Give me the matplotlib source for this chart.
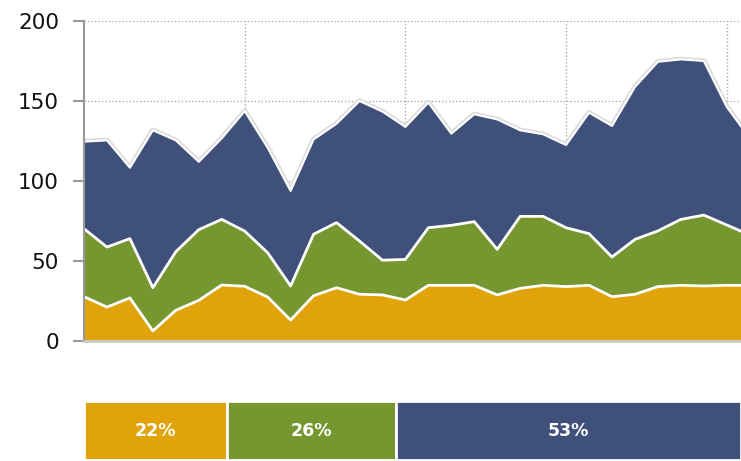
import numpy as np
import matplotlib
matplotlib.use("Agg")
import matplotlib.pyplot as plt

yellow = [27.7, 21.2, 26.9, 6.3, 19.2, 25.4, 35.0, 34.2, 27.5, 13.1, 28.3, 33.3, 29.2, 28.8, 25.6,
          34.8, 34.8, 34.8, 28.8, 32.9, 34.8, 34.0, 34.8, 27.7, 29.2, 34.0, 34.8, 34.4, 34.8, 34.8]
green = [42.5, 37.5, 37.1, 27.0, 36.6, 44.2, 41.0, 34.5, 27.7, 21.3, 38.4, 40.7, 33.3, 21.7, 25.4,
         36.0, 37.5, 39.8, 28.5, 45.0, 43.1, 36.8, 32.3, 24.8, 34.3, 34.8, 41.2, 44.3, 37.7, 31.5]
blue = [54.4, 66.7, 44.3, 98.4, 69.6, 42.4, 50.7, 75.0, 65.6, 59.4, 59.3, 61.8, 87.5, 92.9, 82.8,
        78.2, 57.3, 67.1, 81.2, 53.8, 51.3, 51.7, 75.6, 81.9, 95.3, 105.7, 100.0, 96.3, 73.8, 60.5]
shares = [22, 26, 53]
share_labels = ["22%", "26%", "53%"]
y_ticks = [0, 50, 100, 150, 200]

colors = ["#E0A30A", "#76962F", "#3F507A"]

W, H = 741, 461
fig = plt.figure(figsize=(W / 100, H / 100), dpi=100)

ax = fig.add_axes([84 / W, 1 - 341 / H, (741 - 84) / W, (341 - 21) / H])
x = np.arange(len(yellow))
y1 = np.array(yellow)
y2 = y1 + np.array(green)
y3 = y2 + np.array(blue)

ax.fill_between(x, 0, y1, color=colors[0], lw=0, zorder=2)
ax.fill_between(x, y1, y2, color=colors[1], lw=0, zorder=2)
ax.fill_between(x, y2, y3, color=colors[2], lw=0, zorder=2)
ax.plot(x, y3, color="#dddddd", lw=4, zorder=1.9, solid_joinstyle="round")
ax.plot(x, y3, color="white", lw=1.5, zorder=3)
ax.plot(x, y2, color="white", lw=2, zorder=3)
ax.plot(x, y1, color="white", lw=2, zorder=3)

ax.set_xlim(0, 28.62)
ax.set_ylim(0, 200)
ax.set_yticks(y_ticks)
ax.set_xticks([7, 14, 21, 28])
ax.grid(True, color="#aaaaaa", linestyle=(0, (1, 1.5)), lw=1, zorder=0)
ax.tick_params(axis="x", length=0, labelbottom=False)
ax.tick_params(axis="y", length=8, width=1.5, color="#999999", labelsize=15.5, labelcolor="#111111", pad=10)
for s in ["top", "right"]:
    ax.spines[s].set_visible(False)
ax.spines["left"].set_color("#999999")
ax.spines["left"].set_linewidth(1.5)
ax.spines["bottom"].set_color("#cccccc")
ax.spines["bottom"].set_linewidth(2)
ax.spines["left"].set_zorder(4)
ax.spines["bottom"].set_zorder(4)

bx = fig.add_axes([84 / W, 1 / H, (741 - 84) / W, 59 / H])
total = sum(shares)
left = 0
for sh, lab, c in zip(shares, share_labels, colors):
    bx.barh(0, sh, left=left, height=1, color=c, edgecolor="white", lw=2)
    bx.text(left + sh / 2, 0, lab, color="white", fontsize=12.5, fontweight="bold",
            ha="center", va="center")
    left += sh
bx.set_xlim(0, total)
bx.set_ylim(-0.5, 0.5)
bx.axis("off")

fig.savefig("out.png", dpi=100)
